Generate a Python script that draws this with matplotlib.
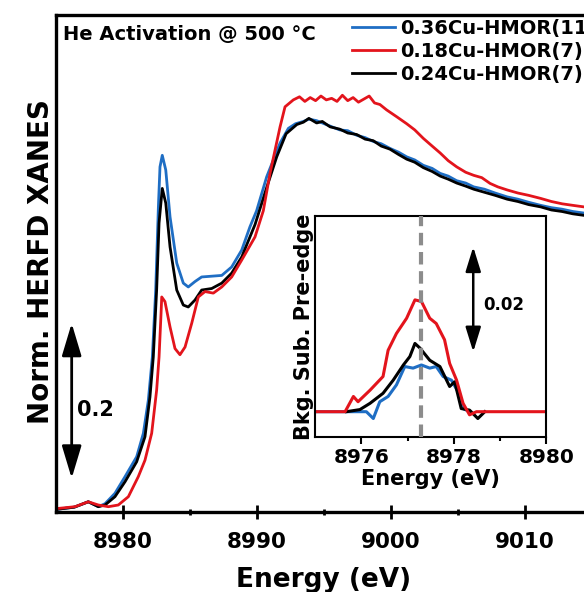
import matplotlib
matplotlib.use('Agg')
import matplotlib.pyplot as plt

# main HERFD XANES spectra
e_blue = [8975.0, 8976.4, 8977.44, 8978.19, 8978.69, 8979.43, 8980.18, 8981.05, 8981.55,
          8981.92, 8982.22, 8982.47, 8982.67, 8982.79, 8982.96, 8983.22, 8983.54, 8984.04,
          8984.53, 8984.9, 8985.4, 8985.9, 8986.65, 8987.4, 8988.14, 8988.89, 8989.5,
          8990.0, 8990.75, 8991.75, 8992.37, 8992.9, 8993.49, 8993.9, 8994.48, 8994.9,
          8995.48, 8996.2, 8996.8, 8997.47, 8998.1, 8998.7, 8999.3, 8999.95, 9000.6,
          9001.2, 9001.8, 9002.44, 9003.1, 9003.7, 9004.3, 9004.93, 9005.6, 9006.2,
          9007.0, 9007.8, 9008.7, 9009.5, 9010.3, 9011.2, 9012.0, 9012.8, 9013.6, 9014.43]
y_blue = [0.002, 0.005, 0.012, 0.0056, 0.0095, 0.023, 0.0446, 0.0705, 0.101,
          0.144, 0.2, 0.287, 0.395, 0.447, 0.462, 0.443, 0.382, 0.322,
          0.296, 0.291, 0.298, 0.304, 0.305, 0.306, 0.317, 0.339, 0.369,
          0.39, 0.434, 0.478, 0.497, 0.503, 0.506, 0.509, 0.507, 0.504,
          0.5, 0.495, 0.494, 0.488, 0.485, 0.48, 0.477, 0.471, 0.466,
          0.46, 0.456, 0.449, 0.445, 0.4385, 0.435, 0.429, 0.426, 0.421,
          0.418, 0.413, 0.408, 0.405, 0.401, 0.397, 0.394, 0.392, 0.389, 0.387]

e_black = [8975.0, 8976.4, 8977.44, 8978.19, 8978.69, 8979.43, 8980.18, 8981.05, 8981.67,
           8982.04, 8982.29, 8982.54, 8982.72, 8982.96, 8983.22, 8983.54, 8984.04, 8984.53,
           8984.9, 8985.4, 8985.9, 8986.65, 8987.4, 8988.14, 8988.89, 8989.88, 8990.75,
           8991.5, 8992.2, 8993.0, 8993.49, 8993.9, 8994.48, 8994.9, 8995.48, 8996.2,
           8996.8, 8997.47, 8998.1, 8998.7, 8999.3, 8999.95, 9000.6, 9001.2, 9001.8,
           9002.44, 9003.1, 9003.7, 9004.3, 9004.93, 9005.6, 9006.2, 9007.0, 9007.8,
           9008.7, 9009.5, 9010.3, 9011.2, 9012.0, 9012.8, 9013.6, 9014.43]
y_black = [0.002, 0.005, 0.012, 0.0056, 0.0078, 0.0186, 0.038, 0.064, 0.0965,
           0.148, 0.2, 0.287, 0.374, 0.419, 0.4, 0.343, 0.287, 0.2675,
           0.265, 0.274, 0.287, 0.289, 0.296, 0.309, 0.33, 0.372, 0.42,
           0.46, 0.49, 0.502, 0.505, 0.51, 0.504, 0.506, 0.499, 0.496,
           0.491, 0.489, 0.483, 0.481, 0.474, 0.47, 0.463, 0.457, 0.453,
           0.446, 0.441, 0.435, 0.431, 0.426, 0.422, 0.418, 0.414, 0.41,
           0.405, 0.402, 0.398, 0.395, 0.391, 0.389, 0.386, 0.384]

e_red = [8975.0, 8976.45, 8977.44, 8978.19, 8978.94, 8979.68, 8980.43, 8981.17, 8981.67,
         8982.17, 8982.54, 8982.72, 8982.87, 8982.92, 8983.16, 8983.54, 8983.91, 8984.28,
         8984.66, 8985.16, 8985.65, 8986.15, 8986.77, 8987.4, 8988.14, 8988.89, 8989.88,
         8990.5, 8991.0, 8991.75, 8992.12, 8992.74, 8993.2, 8993.6, 8994.0, 8994.4,
         8994.8, 8995.2, 8995.6, 8996.0, 8996.4, 8996.8, 8997.2, 8997.6, 8998.0,
         8998.4, 8998.8, 8999.2, 8999.7, 9000.46, 9001.2, 9001.8, 9002.44, 9003.1,
         9003.7, 9004.3, 9004.93, 9005.6, 9006.2, 9006.8, 9007.42, 9008.0, 9008.7,
         9009.5, 9010.3, 9011.2, 9012.0, 9012.8, 9013.6, 9014.43]
y_red = [0.003, 0.0056, 0.012, 0.0078, 0.0056, 0.0078, 0.0186, 0.0446, 0.066,
         0.101, 0.157, 0.2, 0.257, 0.278, 0.272, 0.239, 0.211, 0.203,
         0.213, 0.244, 0.278, 0.285, 0.283, 0.291, 0.304, 0.326, 0.356,
         0.39, 0.4385, 0.499, 0.525, 0.534, 0.538, 0.532, 0.537, 0.533,
         0.539, 0.534, 0.536, 0.532, 0.54, 0.533, 0.537, 0.531, 0.535,
         0.539, 0.53, 0.528, 0.521, 0.512, 0.503, 0.495, 0.484, 0.474,
         0.465, 0.455, 0.447, 0.44, 0.436, 0.433, 0.4255, 0.421, 0.417,
         0.413, 0.41, 0.406, 0.402, 0.399, 0.397, 0.395]

# background-subtracted pre-edge (inset)
pe_e_blue = [8975.0, 8975.68, 8976.11, 8976.26, 8976.40, 8976.58, 8976.76, 8976.94, 8977.12,
             8977.30, 8977.48, 8977.62, 8977.77, 8977.95, 8978.09, 8978.20, 8978.34]
pe_y_blue = [0, 0, 0, -0.0013, 0.0019, 0.0029, 0.0051, 0.0086, 0.0083,
             0.0089, 0.0083, 0.0086, 0.0067, 0.0060, 0.0038, 0.0006, 0]

pe_e_black = [8975.68, 8975.97, 8976.19, 8976.47, 8976.69, 8976.91, 8977.05, 8977.16, 8977.27,
              8977.48, 8977.70, 8977.91, 8978.02, 8978.16, 8978.34, 8978.52, 8978.67]
pe_y_black = [0, 0.0004, 0.0016, 0.0035, 0.006, 0.0089, 0.0105, 0.013, 0.0121,
              0.0098, 0.0086, 0.0048, 0.0057, 0.0006, 0.0003, -0.0013, 0]

pe_e_red = [8975.0, 8975.65, 8975.83, 8975.93, 8976.19, 8976.47, 8976.58, 8976.76, 8976.98,
            8977.16, 8977.30, 8977.48, 8977.62, 8977.80, 8977.91, 8978.06, 8978.20, 8978.34,
            8978.49, 8980.0]
pe_y_red = [0, 0, 0.0029, 0.0019, 0.0041, 0.0067, 0.0117, 0.0149, 0.0178,
            0.0213, 0.0210, 0.0178, 0.0168, 0.0137, 0.0092, 0.0060, 0.0016, -0.0006,
            0, 0]

labels = ['0.36Cu-HMOR(11)', '0.18Cu-HMOR(7)', '0.24Cu-HMOR(7)']
colors = ['#1f6ec4', '#e3141c', 'black']
pre_edge_center = 8977.3

plt.rcParams['font.family'] = 'DejaVu Sans'
plt.rcParams['font.weight'] = 'bold'

fig = plt.figure(figsize=(5.84, 5.92), dpi=100)
ax = fig.add_axes([0.0952, 0.1346, 0.9048, 0.8400])

l_blue, = ax.plot(e_blue, y_blue, color=colors[0], lw=2.0, zorder=2)
l_black, = ax.plot(e_black, y_black, color=colors[2], lw=2.0, zorder=2.1)
l_red, = ax.plot(e_red, y_red, color=colors[1], lw=2.0, zorder=2.2)

ax.set_xlim(8975, 9014.43)
ax.set_ylim(-0.0017, 0.6442)
ax.set_yticks([])
ax.set_xticks([8980, 8990, 9000, 9010])
ax.set_xticks([8985, 8995, 9005], minor=True)
ax.tick_params(axis='x', which='major', direction='inout', length=10, width=2,
               labelsize=15.5, pad=9)
ax.tick_params(axis='x', which='minor', direction='inout', length=4, width=2)
for s in ['left', 'bottom', 'top']:
    ax.spines[s].set_linewidth(2.4)
ax.spines['right'].set_visible(False)
for lab in ax.get_xticklabels():
    lab.set_fontweight('bold')

fig.text(0.5548, 0.0084, 'Energy (eV)', fontsize=19, fontweight='bold',
         ha='center', va='baseline')
fig.text(0.0702, 0.559, 'Norm. HERFD XANES', fontsize=20, fontweight='bold',
         rotation=90, ha='center', va='center')

ax.text(0.014, 0.9608, 'He Activation @ 500 °C', transform=ax.transAxes,
        fontsize=14, fontweight='bold', ha='left', va='center')

ax.annotate('', xy=(8976.2, 0.2438), xytext=(8976.2, 0.0425),
            arrowprops=dict(arrowstyle='<|-|>,head_length=1.0,head_width=0.3',
                            mutation_scale=20, color='black', lw=2,
                            shrinkA=0, shrinkB=0))
ax.text(8976.6, (511 - 410) / 770, '0.2', fontsize=15, fontweight='bold',
        ha='left', va='center')

fig.legend([l_blue, l_red, l_black], labels, loc='upper left',
           bbox_to_anchor=(352 / 584, 0.968), frameon=False, borderpad=0,
           borderaxespad=0, handlelength=2.2, handletextpad=0.25,
           labelspacing=0.2, prop={'size': 14, 'weight': 'bold'})

# inset
ins = fig.add_axes([0.5394, 0.2613, 0.3961, 0.3743])
ins.plot(pe_e_blue, pe_y_blue, color=colors[0], lw=2.2, zorder=2)
ins.plot(pe_e_black, pe_y_black, color=colors[2], lw=2.2, zorder=2.1)
ins.plot(pe_e_red, pe_y_red, color=colors[1], lw=2.2, zorder=2.2)
ins.axvline(pre_edge_center, color='#8c8c8c', lw=3, ls=(0, (3, 1.6)), zorder=3)
ins.set_xlim(8975, 8980)
ins.set_ylim(-0.00488, 0.03733)
ins.set_yticks([])
ins.set_xticks([8976, 8978, 8980])
ins.set_xticks([8977, 8979], minor=True)
ins.tick_params(axis='x', which='major', direction='out', length=5, width=1.5,
                labelsize=14.5, pad=3)
ins.tick_params(axis='x', which='minor', direction='out', length=3, width=1.5)
for s in ins.spines.values():
    s.set_linewidth(1.5)
for lab in ins.get_xticklabels():
    lab.set_fontweight('bold')
ins.set_xlabel('Energy (eV)', fontsize=15, fontweight='bold', labelpad=1)
ins.set_ylabel('Bkg. Sub. Pre-edge', fontsize=15, fontweight='bold', labelpad=1)

ins.annotate('', xy=(8978.42, 0.0314), xytext=(8978.42, 0.0114),
             arrowprops=dict(arrowstyle='<|-|>,head_length=1.0,head_width=0.31',
                             mutation_scale=15, color='black', lw=1.8,
                             shrinkA=0, shrinkB=0))
ins.text(8978.63, 0.0203, '0.02', fontsize=12, fontweight='bold',
         ha='left', va='center')

fig.savefig('out.png', dpi=100)
